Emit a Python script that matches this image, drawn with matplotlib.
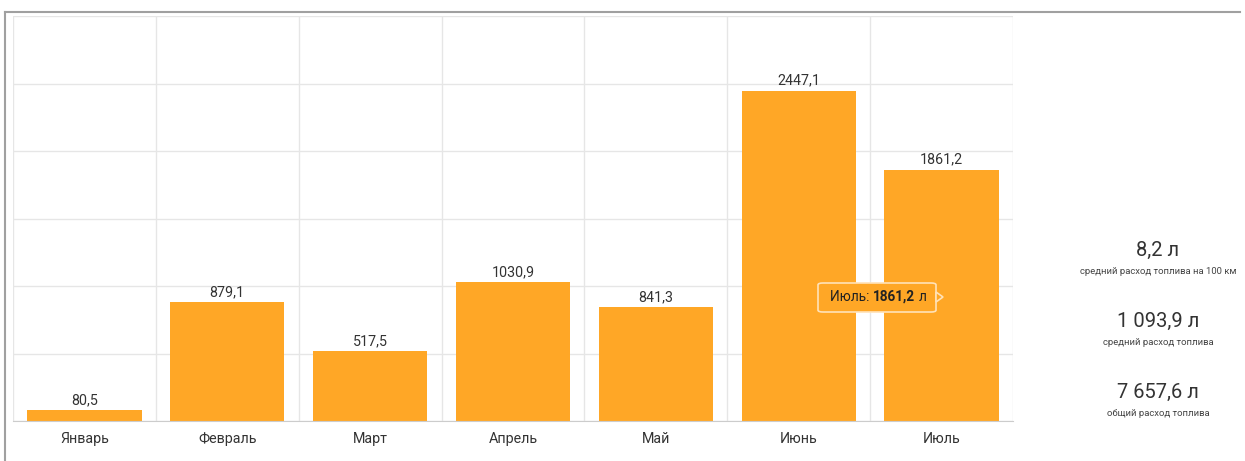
import matplotlib
matplotlib.use('Agg')
import matplotlib.pyplot as plt
from matplotlib.lines import Line2D
from matplotlib.patches import FancyBboxPatch, Polygon

plt.rcParams['font.family'] = ['Roboto', 'DejaVu Sans']

months = ['Январь', 'Февраль', 'Март', 'Апрель', 'Май', 'Июнь', 'Июль']
fuel = [80.5, 879.1, 517.5, 1030.9, 841.3, 2447.1, 1861.2]
stat_values = ['8,2 л', '1 093,9 л', '7 657,6 л']
stat_titles = ['средний расход топлива на 100 км', 'средний расход топлива', 'общий расход топлива']

W, H = 1245, 461
fig = plt.figure(figsize=(W / 100, H / 100), dpi=100)
ax = fig.add_axes([13 / W, 40 / H, 1000 / W, 405 / H])

bar_color = '#FFA726'
x = range(len(months))
ax.bar(x, fuel, width=0.8, color=bar_color, zorder=2)
for i, v in enumerate(fuel):
    ax.text(i, v + 22, f'{v:.1f}'.replace('.', ','), ha='center', va='bottom',
            fontsize=10.3, color='#333333')

ax.set_xlim(-0.5, len(months) - 0.5)
ax.set_ylim(0, 3000)
ax.set_yticks(range(0, 3001, 500))
ax.set_yticklabels([])
ax.set_xticks([i - 0.5 for i in range(len(months) + 1)], minor=False)
ax.set_xticklabels([])
ax.set_xticks(list(x), minor=True)
ax.set_xticklabels(months, minor=True, fontsize=10.3, color='#333333')
ax.tick_params(axis='both', which='both', length=0)
ax.tick_params(axis='x', which='minor', pad=8)
ax.grid(True, which='major', color='#e6e6e6', linewidth=1, zorder=0)
for s in ['top', 'right', 'left']:
    ax.spines[s].set_visible(False)
ax.spines['bottom'].set_color('#cccccc')

# outer frame
fig.add_artist(Line2D([5 / W, 1240 / W], [1 - 12 / H, 1 - 12 / H], color='#a0a0a0', lw=1.5))
fig.add_artist(Line2D([5 / W, 5 / W], [0, 1 - 12 / H], color='#a0a0a0', lw=1.5))

# tooltip
tx0, ty0, tx1, ty1 = 818, 283, 936, 312
box = FancyBboxPatch((tx0 / W, 1 - ty1 / H), (tx1 - tx0) / W, (ty1 - ty0) / H,
                     boxstyle='round,pad=0,rounding_size=0.004', transform=fig.transFigure,
                     facecolor=bar_color, edgecolor='#ffe2b8', lw=1.2, zorder=5)
fig.add_artist(box)
tri = Polygon([[tx1 / W, 1 - 292 / H], [943 / W, 1 - 297 / H], [tx1 / W, 1 - 302 / H]],
              closed=True, transform=fig.transFigure, facecolor=bar_color,
              edgecolor='#ffe2b8', lw=1.2, zorder=5)
fig.add_artist(tri)
fig.canvas.draw()
r = fig.canvas.get_renderer()
ty = 1 - 297 / H
t1 = fig.text(830 / W, ty, 'Июль: ', fontsize=9.8, color='#222222', va='center', zorder=6)
e = t1.get_window_extent(r)
t2 = fig.text(e.x1 / W, ty, '1861,2', fontsize=9.8, fontweight='bold', color='#222222',
              va='center', zorder=6)
e = t2.get_window_extent(r)
fig.text(e.x1 / W + 4 / W, ty, 'л', fontsize=9.8, color='#222222', va='center', zorder=6)

# side stats
for k, (val, title) in enumerate(zip(stat_values, stat_titles)):
    yv = 250 + k * 71
    fig.text(1158 / W, 1 - yv / H, val, fontsize=14.5, color='#333333', ha='center', va='center')
    fig.text(1158 / W, 1 - (yv + 21) / H, title, fontsize=6.8, color='#444444', ha='center', va='center')

fig.savefig('out.png', dpi=100)
